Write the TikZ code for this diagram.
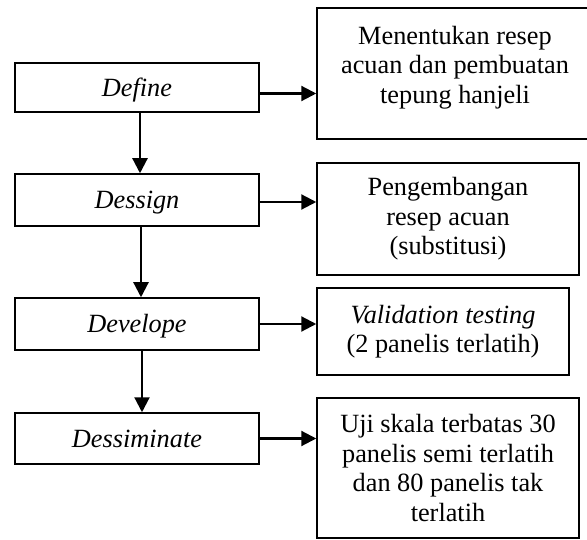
\documentclass[tikz,border=0pt]{standalone}
\usepackage{fontspec}
\setmainfont{Liberation Serif}
\usetikzlibrary{arrows.meta}

\begin{document}
\begin{tikzpicture}[
            x=1pt,
            y=1pt,
            font=\fontsize{26.3}{29.5}\selectfont,
            stage/.style={draw, line width=1.5pt, minimum width=244pt, inner sep=0pt,
                text height=18pt, text depth=0pt},
            result/.style={draw, line width=1.5pt, align=center, inner sep=0pt},
            flow/.style={line width=2.2pt, -{Triangle[length=15pt,width=15pt]}}
        ]
            % Fix the page size
            \useasboundingbox (0,0) rectangle (587,-540);

            % Stages (left column)
            \node[stage, minimum height=49pt] (define) at (137,-87.5) {\itshape Define};
            \node[stage, minimum height=52pt] (dessign) at (137,-200) {\itshape Dessign};
            \node[stage, minimum height=52pt] (develope) at (137,-324) {\itshape Develope};
            \node[stage, minimum height=51pt] (dessiminate) at (137,-438.5) {\itshape Dessiminate};

            % Results (right column)
            \node[result, text depth=18pt, minimum width=276pt, minimum height=131pt] (acuan) at (455,-73.5)
                {Menentukan resep\\acuan dan pembuatan\\tepung hanjeli};
            \node[result, minimum width=262pt, minimum height=112pt] (substitusi) at (448,-219)
                {Pengembangan\\resep acuan\\(substitusi)};
            \node[result, minimum width=252pt, minimum height=87pt] (validasi) at (443,-331.5)
                {\itshape Validation testing\\(2 panelis terlatih)};
            \node[result, minimum width=262pt, minimum height=140pt] (ujiskala) at (448,-468)
                {Uji skala terbatas 30\\panelis semi terlatih\\dan 80 panelis tak\\terlatih};

            % Arrows down the stages
            \draw[flow] ([xshift=3pt]define.south) -- ([xshift=3pt]define.south |- dessign.north);
            \draw[flow] ([xshift=4pt]dessign.south) -- ([xshift=4pt]dessign.south |- develope.north);
            \draw[flow] ([xshift=5pt]develope.south) -- ([xshift=5pt]develope.south |- dessiminate.north);

            % Arrows to the results
            \draw[flow] ([yshift=-6pt]define.east) -- ([yshift=-6pt]define.east -| acuan.west);
            \draw[flow] ([yshift=-2pt]dessign.east) -- ([yshift=-2pt]dessign.east -| substitusi.west);
            \draw[flow] (develope.east) -- (develope.east -| validasi.west);
            \draw[flow] (dessiminate.east) -- (dessiminate.east -| ujiskala.west);
        \end{tikzpicture}
\end{document}
